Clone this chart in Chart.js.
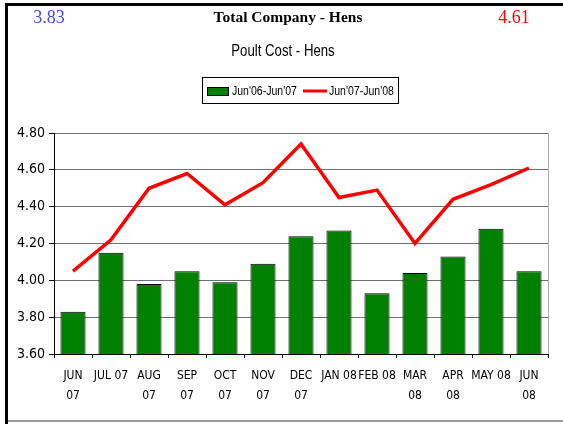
<!DOCTYPE html>
<html>
<head>
<meta charset="utf-8">
<script src="https://cdn.jsdelivr.net/npm/chart.js@4/dist/chart.umd.min.js"></script>
<style>
html,body{margin:0;padding:0;background:#fff;}
#wrap{position:relative;width:563px;height:424px;}
canvas{display:block;}
</style>
</head>
<body>
<div id="wrap"><canvas id="c" width="563" height="424"></canvas></div>
<script>
const categories = [["JUN","07"],"JUL 07",["AUG","07"],["SEP","07"],["OCT","07"],["NOV","07"],["DEC","07"],"JAN 08","FEB 08",["MAR","08"],["APR","08"],"MAY 08",["JUN","08"]];
const hens0607 = [3.83,4.15,3.98,4.05,3.99,4.09,4.24,4.27,3.93,4.04,4.13,4.28,4.05];
const hens0708 = [4.05,4.22,4.50,4.58,4.41,4.53,4.74,4.45,4.49,4.20,4.44,4.52,4.61];
const seriesNames = ["Jun'06-Jun'07","Jun'07-Jun'08"];
const yTicks = [3.60,3.80,4.00,4.20,4.40,4.60,4.80];
const headerTitle = "Total Company - Hens";
const headerLeft = "3.83";
const headerRight = "4.61";
const chartTitle = "Poult Cost - Hens";

const NARROW = "'Liberation Sans Narrow','Arial Narrow','DejaVu Sans Condensed',sans-serif";
const SANS = "'Liberation Sans',Arial,sans-serif";
const SERIF = "'Liberation Serif','Times New Roman',serif";

function narrowText(ctx, text, x, y, sx){
  ctx.save();
  ctx.translate(x, y);
  ctx.scale(sx, 1);
  ctx.fillText(text, 0, 0);
  ctx.restore();
}

const decor = {
  id:'decor',
  afterDraw(chart){
    const ctx = chart.ctx;
    const a = chart.chartArea;
    ctx.save();
    // frame
    ctx.fillStyle = '#000';
    ctx.fillRect(5,3,558,3);
    ctx.fillRect(5,3,3,421);
    ctx.fillStyle = '#9a9a9a';
    ctx.fillRect(8,420,555,2);
    // right border of plot
    ctx.strokeStyle = '#b0b0b0';
    ctx.lineWidth = 1;
    ctx.beginPath(); ctx.moveTo(a.right+0.5,a.top); ctx.lineTo(a.right+0.5,a.bottom); ctx.stroke();
    // header texts
    ctx.textBaseline = 'middle';
    ctx.textAlign = 'center';
    ctx.fillStyle = '#000';
    ctx.font = 'bold 15.5px ' + SERIF;
    ctx.fillText(headerTitle, 288, 18);
    ctx.font = '18px ' + SERIF;
    ctx.fillStyle = '#4646e6';
    ctx.fillText(headerLeft, 49, 18);
    ctx.fillStyle = '#ff0000';
    ctx.fillText(headerRight, 514, 18);
    ctx.fillStyle = '#000';
    ctx.font = '16.5px ' + SANS;
    narrowText(ctx, chartTitle, 283, 51, 0.8);
    // legend
    const barDs = chart.data.datasets.find(d=>d.type==='bar');
    const lineDs = chart.data.datasets.find(d=>d.type==='line');
    ctx.strokeStyle = '#000';
    ctx.lineWidth = 1;
    ctx.strokeRect(202.5,77.5,196,26);
    ctx.fillStyle = barDs.backgroundColor;
    ctx.fillRect(207,87,22,9);
    ctx.strokeRect(207.5,87.5,21,8);
    ctx.textAlign = 'left';
    ctx.fillStyle = '#000';
    ctx.font = '13px ' + SANS;
    narrowText(ctx, barDs.label, 232, 91, 0.81);
    ctx.strokeStyle = lineDs.borderColor;
    ctx.lineWidth = 3;
    ctx.beginPath(); ctx.moveTo(303,91); ctx.lineTo(327,91); ctx.stroke();
    narrowText(ctx, lineDs.label, 329, 91, 0.81);
    ctx.restore();
  }
};

new Chart(document.getElementById('c'), {
  data:{
    labels: categories,
    datasets:[
      {type:'line', label:seriesNames[1], data:hens0708, borderColor:'#ff0000', borderWidth:3.5, pointRadius:0, tension:0, order:0},
      {type:'bar', label:seriesNames[0], data:hens0607, backgroundColor:'#008000', borderColor:'#000', borderWidth:1, borderSkipped:false, barPercentage:0.66, categoryPercentage:1, order:1}
    ]
  },
  options:{
    responsive:false,
    animation:false,
    devicePixelRatio:1,
    layout:{padding:{left:0,top:133,right:15,bottom:0}},
    plugins:{legend:{display:false}, title:{display:false}, tooltip:{enabled:false}},
    scales:{
      x:{
        offset:true,
        grid:{offset:true, drawOnChartArea:false, drawTicks:true, tickLength:4, color:'#000'},
        border:{color:'#000', width:1},
        ticks:{color:'#000', font:{family:NARROW, size:12, lineHeight:1.65}, padding:8, maxRotation:0, autoSkip:false},
        afterFit(s){ s.height = 70; }
      },
      y:{
        min:3.6, max:4.8,
        afterBuildTicks(s){ s.ticks = yTicks.map(v=>({value:v})); },
        grid:{color:'#707070', tickLength:5, tickColor:'#000'},
        border:{color:'#000', width:1},
        ticks:{color:'#000', font:{family:NARROW, size:14}, padding:4, callback:v=>Number(v).toFixed(2)},
        afterFit(s){ s.width = 54; }
      }
    }
  },
  plugins:[decor]
});
</script>
</body>
</html>
